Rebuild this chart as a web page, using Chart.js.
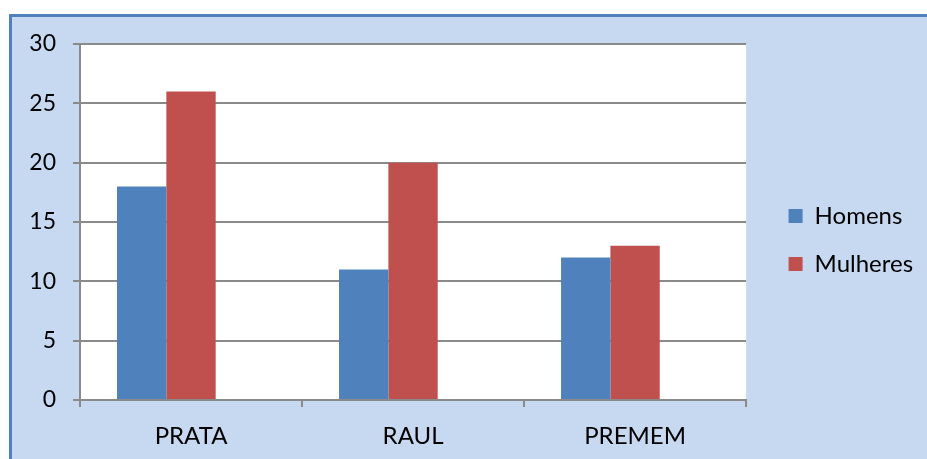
<!DOCTYPE html>
<html>
<head>
<meta charset="utf-8">
<script src="https://cdn.jsdelivr.net/npm/chart.js@4.4.1/dist/chart.umd.min.js"></script>
<style>
  html, body { margin: 0; padding: 0; background: #ffffff; overflow: hidden; }
  #wrap { position: relative; width: 927px; height: 459px; }
  #frame {
    position: absolute; left: 9px; top: 14px; width: 930px; height: 460px;
    background: #c6d9f1; border-left: 3px solid #4f81bd; border-top: 3px solid #4f81bd;
    box-sizing: border-box;
  }
  #chart { position: absolute; left: 0; top: 0; }
</style>
</head>
<body>
<div id="wrap">
  <div id="frame"></div>
  <canvas id="chart" width="927" height="459"></canvas>
</div>
<script>
// Respondents per school, split by sex
const categories = ['PRATA', 'RAUL', 'PREMEM'];
const homens = [18, 11, 12];
const mulheres = [26, 20, 13];
// Empty third series keeps the Excel-style three-slot grouping
const serie3 = [null, null, null];
const seriesNames = ['Homens', 'Mulheres', 'Série3'];
const yMax = 30;
const yStep = 5;

const gridGray = '#8a8a8a';
const fontFamily = 'Lato, "Open Sans", "Liberation Sans", sans-serif';

const plotBackground = {
  id: 'plotBackground',
  beforeDraw(chart) {
    const { ctx, chartArea: a } = chart;
    ctx.save();
    ctx.fillStyle = '#ffffff';
    ctx.fillRect(a.left, a.top, a.right - a.left, a.bottom - a.top);
    ctx.restore();
  }
};

new Chart(document.getElementById('chart'), {
  type: 'bar',
  data: {
    labels: categories,
    datasets: [
      { label: seriesNames[0], data: homens, backgroundColor: '#4f81bd', borderWidth: 0 },
      { label: seriesNames[1], data: mulheres, backgroundColor: '#c0504d', borderWidth: 0 },
      { label: seriesNames[2], data: serie3, backgroundColor: '#9bbb59', borderWidth: 0 }
    ]
  },
  options: {
    responsive: false,
    animation: false,
    devicePixelRatio: 1,
    layout: { padding: { top: 30, bottom: 9, left: 0, right: 9.5 } },
    datasets: { bar: { categoryPercentage: 3 / 4.5, barPercentage: 1 } },
    scales: {
      x: {
        offset: true,
        grid: { display: true, drawOnChartArea: false, drawTicks: true, tickLength: 7, color: gridGray, lineWidth: 2, offset: true },
        border: { display: true, color: gridGray, width: 2 },
        ticks: { color: '#000000', padding: 15, font: { family: fontFamily, size: 24 } },
        afterFit(s) { s.height = 50; }
      },
      y: {
        min: 0,
        max: yMax,
        ticks: { stepSize: yStep, color: '#000000', padding: 17, font: { family: fontFamily, size: 23 } },
        grid: { color: gridGray, lineWidth: 2, tickLength: 7, drawTicks: true },
        border: { display: true, color: gridGray, width: 2 },
        afterFit(s) { s.width = 80; }
      },
      padTop: {
        type: 'linear', position: 'top', display: true,
        grid: { display: false }, ticks: { display: false }, border: { display: false },
        afterFit(s) { s.height = 14; }
      },
      padRight: {
        type: 'linear', position: 'right', display: true,
        grid: { display: false }, ticks: { display: false }, border: { display: false },
        afterFit(s) { s.width = 18.5; }
      }
    },
    plugins: {
      legend: {
        position: 'right',
        align: 'center',
        labels: {
          boxWidth: 14,
          boxHeight: 14,
          padding: 24,
          color: '#000000',
          font: { family: fontFamily, size: 24 },
          filter: (item) => item.datasetIndex < 2
        }
      },
      tooltip: { enabled: false }
    }
  },
  plugins: [plotBackground]
});
</script>
</body>
</html>
